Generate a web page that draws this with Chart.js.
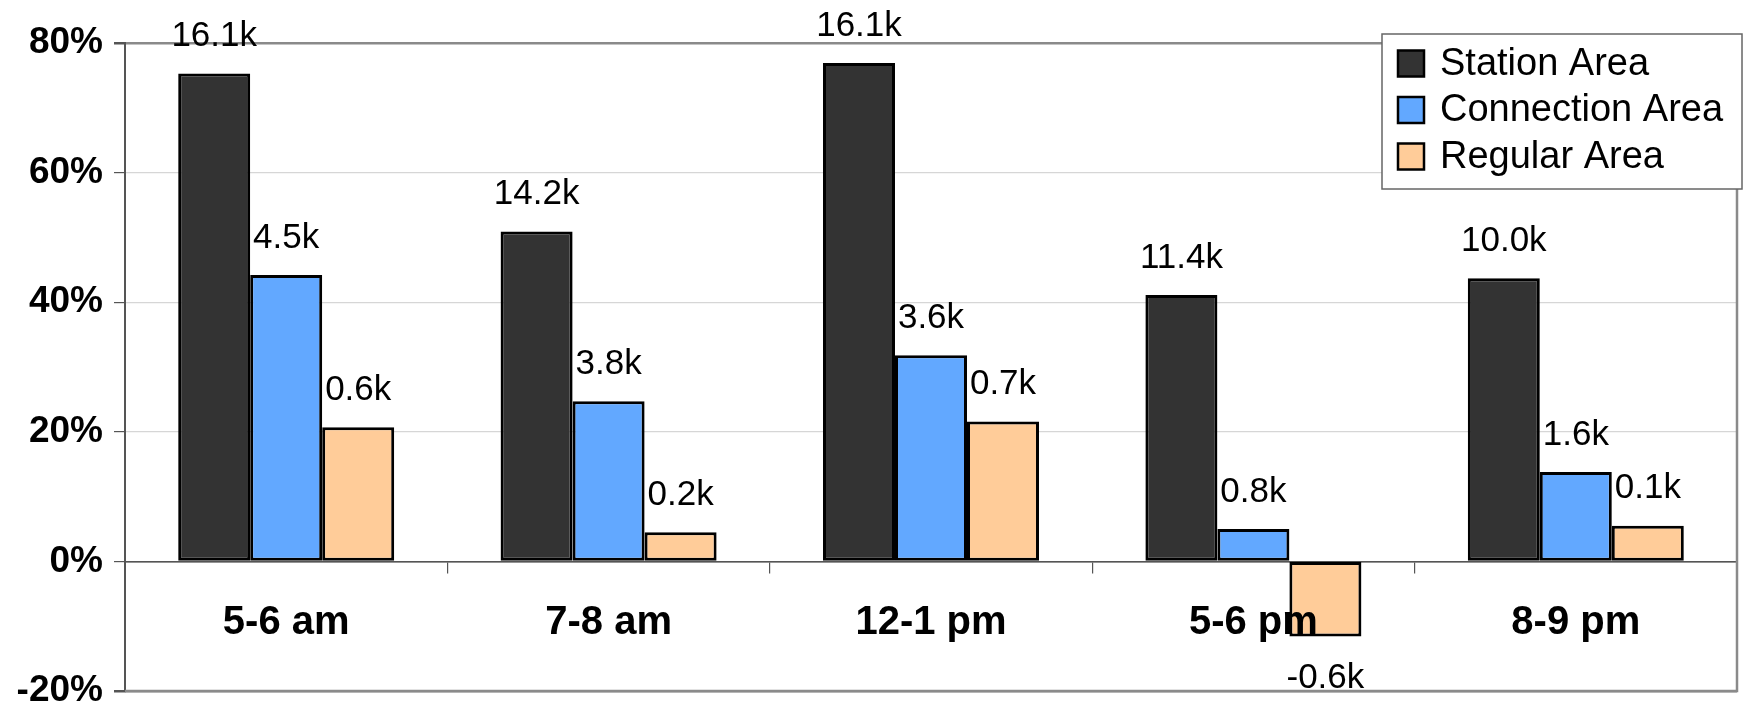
<!DOCTYPE html>
<html>
<head>
<meta charset="utf-8">
<script src="https://cdn.jsdelivr.net/npm/chart.js@4"></script>
<style>
  html, body { margin: 0; padding: 0; background: #ffffff; }
  #wrap { width: 1756px; height: 705px; }
</style>
</head>
<body>
<div id="wrap"><canvas id="c" width="1756" height="705"></canvas></div>
<script>
const categories = ['5-6 am', '7-8 am', '12-1 pm', '5-6 pm', '8-9 pm'];
const seriesNames = ['Station Area', 'Connection Area', 'Regular Area'];
const stationValues = [75.3, 50.9, 76.9, 41.1, 43.7];
const connectionValues = [44.2, 24.7, 31.8, 5.0, 13.8];
const regularValues = [20.7, 4.5, 21.6, -11.6, 5.5];
const stationLabels = ['16.1k', '14.2k', '16.1k', '11.4k', '10.0k'];
const connectionLabels = ['4.5k', '3.8k', '3.6k', '0.8k', '1.6k'];
const regularLabels = ['0.6k', '0.2k', '0.7k', '-0.6k', '0.1k'];
const yMin = -20, yMax = 80, yStep = 20;

const FONT = '"Liberation Sans", Arial, Helvetica, sans-serif';
const colors = ['#333333', '#62A8FF', '#FFCC99'];

const barLabelPlugin = {
  id: 'barLabels',
  afterDraw(chart) {
    const ctx = chart.ctx;
    ctx.save();
    ctx.font = '35px ' + FONT;
    ctx.fillStyle = '#000';
    ctx.textAlign = 'center';
    ctx.textBaseline = 'middle';
    chart.data.datasets.forEach((ds, i) => {
      const meta = chart.getDatasetMeta(i);
      meta.data.forEach((bar, j) => {
        const v = ds.data[j];
        const y = v >= 0 ? bar.y - 37 : bar.y + 42;
        ctx.fillText(ds.valueLabels[j], bar.x, y);
      });
    });
    ctx.restore();
  }
};

const framePlugin = {
  id: 'frame',
  afterDraw(chart) {
    const a = chart.chartArea;
    const ctx = chart.ctx;
    ctx.save();
    ctx.strokeStyle = '#8a8a8a';
    ctx.lineWidth = 2.5;
    ctx.beginPath();
    ctx.moveTo(a.left, a.bottom);
    ctx.lineTo(a.right, a.bottom);
    ctx.lineTo(a.right, a.top);
    ctx.stroke();
    ctx.restore();
  }
};

const legendPlugin = {
  id: 'boxLegend',
  afterDraw(chart, args, opts) {
    const ctx = chart.ctx;
    ctx.save();
    ctx.fillStyle = '#ffffff';
    ctx.fillRect(opts.x, opts.y, opts.w, opts.h);
    ctx.strokeStyle = '#666666';
    ctx.lineWidth = 1.5;
    ctx.strokeRect(opts.x, opts.y, opts.w, opts.h);
    ctx.font = opts.fontSize + 'px ' + FONT;
    ctx.textAlign = 'left';
    ctx.textBaseline = 'middle';
    chart.data.datasets.forEach((ds, i) => {
      const cy = opts.y + opts.firstRow + i * opts.rowGap;
      ctx.fillStyle = ds.backgroundColor;
      ctx.fillRect(opts.x + opts.swatchX, cy - opts.swatch / 2, opts.swatch, opts.swatch);
      ctx.strokeStyle = '#000';
      ctx.lineWidth = 2.5;
      ctx.strokeRect(opts.x + opts.swatchX, cy - opts.swatch / 2, opts.swatch, opts.swatch);
      ctx.fillStyle = '#000';
      ctx.fillText(ds.label, opts.x + opts.textX, cy + 1);
    });
    ctx.restore();
  }
};

const valueSets = [stationValues, connectionValues, regularValues];
const labelSets = [stationLabels, connectionLabels, regularLabels];

new Chart(document.getElementById('c'), {
  type: 'bar',
  data: {
    labels: categories,
    datasets: seriesNames.map((name, i) => ({
      label: name,
      data: valueSets[i],
      valueLabels: labelSets[i],
      backgroundColor: colors[i],
      borderColor: '#000000',
      borderWidth: 3,
      borderSkipped: false,
      categoryPercentage: 0.67,
      barPercentage: 1.0
    }))
  },
  options: {
    responsive: false,
    devicePixelRatio: 1,
    animation: false,
    layout: { padding: { top: 43, bottom: 14, right: 19, left: 0 } },
    plugins: {
      legend: { display: false },
      tooltip: { enabled: false },
      boxLegend: { x: 1382, y: 34, w: 360, h: 155, fontSize: 38, swatch: 26, swatchX: 16, textX: 58, firstRow: 29.5, rowGap: 46.5 }
    },
    scales: {
      y: {
        min: yMin, max: yMax,
        ticks: {
          stepSize: yStep,
          callback: v => v + '%',
          font: { family: FONT, size: 37, weight: 'bold' },
          color: '#000',
          padding: 11
        },
        grid: {
          color: c => (c.tick && c.tick.value === 0) ? '#555555' : ((c.tick && (c.tick.value === yMax || c.tick.value === yMin)) ? '#8a8a8a' : '#d6d6d6'),
          lineWidth: c => (c.tick && (c.tick.value === yMax || c.tick.value === yMin)) ? 2.5 : 1.2,
          tickColor: '#555555',
          tickLength: 11,
          drawTicks: true
        },
        border: { display: true, color: '#555555', width: 2 },
        afterFit(scale) { scale.width = 125; scale.paddingTop = 0; scale.paddingBottom = 0; }
      },
      x: {
        position: { y: 0 },
        offset: true,
        ticks: {
          z: 1,
          font: { family: FONT, size: 40, weight: 'bold' },
          color: '#000',
          padding: 27,
          maxRotation: 0
        },
        grid: {
          offset: true,
          drawOnChartArea: false,
          drawTicks: true,
          tickLength: 11,
          color: '#555555',
          tickColor: '#555555',
          lineWidth: 1.2
        },
        border: { display: true, color: '#555555', width: 1.5 }
      }
    }
  },
  plugins: [barLabelPlugin, framePlugin, legendPlugin]
});
</script>
</body>
</html>
